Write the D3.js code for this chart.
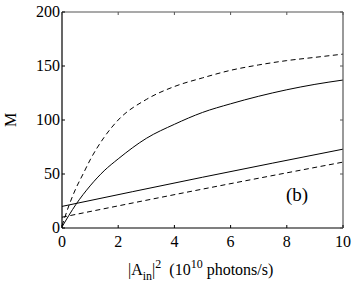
<!DOCTYPE html>
<html>
<head>
<meta charset="utf-8">
<script src="https://cdn.jsdelivr.net/npm/d3@7"></script>
<style>
  body { margin: 0; background: #fff; }
</style>
</head>
<body>
<div id="chart"></div>
<script>
const width = 354;
const height = 293;
const margin = { top: 12, right: 11, bottom: 65, left: 62 };
const serif = "Liberation Serif";

// curves
const xUpper = [0, 0.5, 1, 1.5, 2, 3, 4, 5, 6, 7, 8, 9, 10];
const upperSolid = [1, 22, 39, 53, 64, 83, 96, 107, 115, 122, 128, 133, 137];
const xDashed = [0, 0.25, 0.5, 0.75, 1, 1.5, 2, 3, 4, 5, 6, 7, 8, 9, 10];
const upperDashed = [2, 21, 37, 50, 63, 84, 100, 119, 131, 139, 146, 151, 155, 158, 161];
const xLower = [0, 5, 10];
const lowerSolid = [20, 47, 73];
const lowerDashed = [10, 36, 61];

const xTicks = [0, 2, 4, 6, 8, 10];
const yTicks = [0, 50, 100, 150, 200];

const svg = d3.select("#chart")
  .append("svg")
  .attr("width", width)
  .attr("height", height)
  .attr("font-family", serif);

const x = d3.scaleLinear().domain([0, 10]).range([margin.left, width - margin.right]);
const y = d3.scaleLinear().domain([0, 200]).range([height - margin.bottom, margin.top]);

const line = d3.line()
  .x(d => x(d[0]))
  .y(d => y(d[1]))
  .curve(d3.curveMonotoneX);

const series = [
  { xs: xUpper, ys: upperSolid, dash: null },
  { xs: xDashed, ys: upperDashed, dash: "5,3.5" },
  { xs: xLower, ys: lowerSolid, dash: null },
  { xs: xLower, ys: lowerDashed, dash: "5,3.5" }
];

svg.selectAll(".curve")
  .data(series)
  .enter()
  .append("path")
  .attr("class", "curve")
  .attr("d", d => line(d.xs.map((v, i) => [v, d.ys[i]])))
  .attr("fill", "none")
  .attr("stroke", "#000")
  .attr("stroke-width", 1)
  .attr("stroke-dasharray", d => d.dash);

// frame
const x0 = x(0), x1 = x(10), y0 = y(0), y1 = y(200);
svg.append("line").attr("x1", x0).attr("x2", x0).attr("y1", y1).attr("y2", y0)
  .attr("stroke", "#000").attr("stroke-width", 1.2);
svg.append("line").attr("x1", x0).attr("x2", x1).attr("y1", y0).attr("y2", y0)
  .attr("stroke", "#000").attr("stroke-width", 1.2);
svg.append("line").attr("x1", x0).attr("x2", x1).attr("y1", y1).attr("y2", y1)
  .attr("stroke", "#555").attr("stroke-width", 1.2);
svg.append("line").attr("x1", x1).attr("x2", x1).attr("y1", y1).attr("y2", y0)
  .attr("stroke", "#555").attr("stroke-width", 1.2);

// ticks, inward on all four sides
const tickLen = 3;
svg.selectAll(".xt-b").data(xTicks).enter().append("line")
  .attr("x1", d => x(d)).attr("x2", d => x(d))
  .attr("y1", y0).attr("y2", y0 - tickLen)
  .attr("stroke", "#000");
svg.selectAll(".xt-t").data(xTicks).enter().append("line")
  .attr("x1", d => x(d)).attr("x2", d => x(d))
  .attr("y1", y1).attr("y2", y1 + tickLen)
  .attr("stroke", "#555");
svg.selectAll(".yt-l").data(yTicks).enter().append("line")
  .attr("x1", x0).attr("x2", x0 + tickLen)
  .attr("y1", d => y(d)).attr("y2", d => y(d))
  .attr("stroke", "#000");
svg.selectAll(".yt-r").data(yTicks).enter().append("line")
  .attr("x1", x1).attr("x2", x1 - tickLen)
  .attr("y1", d => y(d)).attr("y2", d => y(d))
  .attr("stroke", "#555");

// tick labels
svg.selectAll(".xl").data(xTicks).enter().append("text")
  .attr("x", d => x(d))
  .attr("y", y0 + 19)
  .attr("text-anchor", "middle")
  .attr("font-size", 16)
  .text(d => d);
svg.selectAll(".yl").data(yTicks).enter().append("text")
  .attr("x", x0 - 2)
  .attr("y", d => y(d) + 5)
  .attr("text-anchor", "end")
  .attr("font-size", 16)
  .text(d => d);

// axis titles
svg.append("text")
  .attr("transform", `translate(16,${(y0 + y1) / 2}) rotate(-90)`)
  .attr("text-anchor", "middle")
  .attr("font-size", 16)
  .text("M");

const xt = svg.append("text")
  .attr("x", 128)
  .attr("y", 275)
  .attr("font-size", 16);
xt.append("tspan").text("|A");
xt.append("tspan").attr("dy", 5).attr("font-size", 12).text("in");
xt.append("tspan").attr("dy", -5).text("|");
xt.append("tspan").attr("dy", -7).attr("font-size", 12).text("2");
xt.append("tspan").attr("dy", 7).text("\u00a0\u00a0(10");
xt.append("tspan").attr("dy", -7).attr("font-size", 12).text("10");
xt.append("tspan").attr("dy", 7).text(" photons/s)");

svg.append("text")
  .attr("x", 297)
  .attr("y", 201)
  .attr("text-anchor", "middle")
  .attr("font-size", 19)
  .text("(b)");
</script>
</body>
</html>
